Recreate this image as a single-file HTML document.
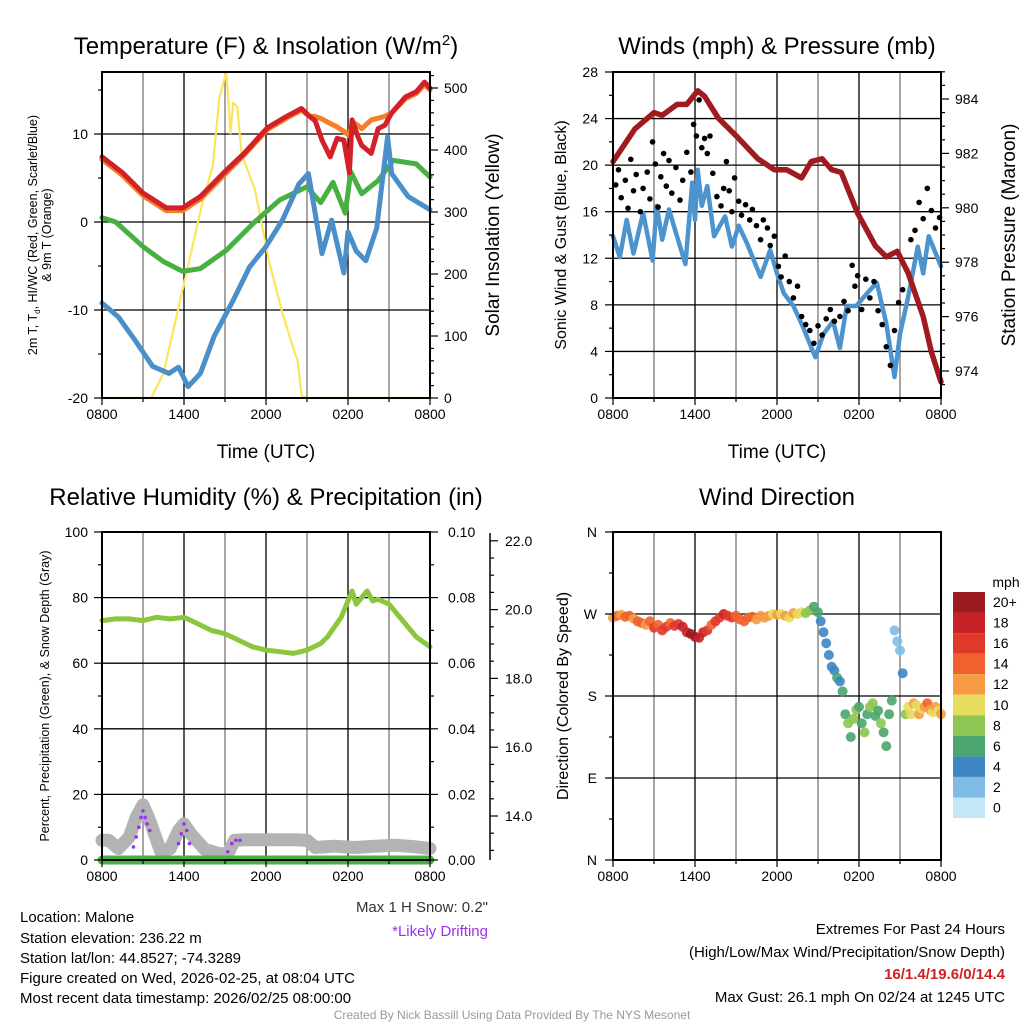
<!DOCTYPE html>
<html><head><meta charset="utf-8"><style>
html,body{margin:0;padding:0;background:#fff;}
svg{display:block;font-family:"Liberation Sans",Arial,sans-serif;}
</style></head><body>
<svg id="fig" width="1024" height="1024" viewBox="0 0 1024 1024">
<rect width="1024" height="1024" fill="#fff"/>
<g id="layer"></g>
<g font-size="24" text-anchor="middle" fill="#000">
<text x="266" y="54">Temperature (F) &amp; Insolation (W/m<tspan dy="-9" font-size="15">2</tspan><tspan dy="9">)</tspan></text>
<text x="777" y="54">Winds (mph) &amp; Pressure (mb)</text>
<text x="266" y="505">Relative Humidity (%) &amp; Precipitation (in)</text>
<text x="777" y="505">Wind Direction</text>
</g>
<g font-size="19" text-anchor="middle">
<text x="266" y="458">Time (UTC)</text>
<text x="777" y="458">Time (UTC)</text>
<text transform="translate(499,235) rotate(-90)">Solar Insolation (Yellow)</text>
<text transform="translate(1015,235) rotate(-90)">Station Pressure (Maroon)</text>
</g>
<g font-size="16" text-anchor="middle">
<text transform="translate(566,235) rotate(-90)">Sonic Wind &amp; Gust (Blue, Black)</text>
<text transform="translate(568,696) rotate(-90)">Direction (Colored By Speed)</text>
</g>
<g font-size="12.5" text-anchor="middle">
<text transform="translate(37,235) rotate(-90)">2m T, T<tspan font-size="8" dy="3">d</tspan><tspan dy="-3">, HI/WC (Red, Green, Scarlet/Blue)</tspan></text>
<text transform="translate(51,235) rotate(-90)">&amp; 9m T (Orange)</text>
<text transform="translate(49,696) rotate(-90)">Percent, Precipitation (Green), &amp; Snow Depth (Gray)</text>
</g>
<g font-size="15" fill="#000">
<text x="20" y="922">Location: Malone</text>
<text x="20" y="943">Station elevation: 236.22 m</text>
<text x="20" y="963">Station lat/lon: 44.8527; -74.3289</text>
<text x="20" y="983">Figure created on Wed, 2026-02-25, at 08:04 UTC</text>
<text x="20" y="1003">Most recent data timestamp: 2026/02/25 08:00:00</text>
<g text-anchor="end">
<text x="488" y="912" fill="#333">Max 1 H Snow: 0.2"</text>
<text x="488" y="936" fill="#9b30f0">*Likely Drifting</text>
<text x="1005" y="934">Extremes For Past 24 Hours</text>
<text x="1005" y="957">(High/Low/Max Wind/Precipitation/Snow Depth)</text>
<text x="1005" y="979" fill="#d32020" font-weight="bold">16/1.4/19.6/0/14.4</text>
<text x="1005" y="1002">Max Gust: 26.1 mph On 02/24 at 1245 UTC</text>
</g>
</g>
<text x="512" y="1019" font-size="12" fill="#999" text-anchor="middle">Created By Nick Bassill Using Data Provided By The NYS Mesonet</text>
<text x="1006" y="587" font-size="14" text-anchor="middle">mph</text>
</svg>
<script>
// ---- Temperature panel data ----
const tempT=[0,1.5,3,4.7,5.9,7.2,9.1,10.4,12.1,13.5,14.6,15.2,15.6,16.1,16.7,17.2,17.7,18.1,18.3,18.7,19,19.7,20.2,20.7,21.2,22.2,23,23.6,24];
const redTemp=[7.4,5.6,3.3,1.6,1.6,2.9,5.9,7.8,10.7,12.0,12.9,12.0,11.5,9.3,7.4,9.5,9.3,5.6,11.6,9.8,8.7,7.8,10.6,11.0,12.4,14.2,14.8,15.9,15.2];
const orangeTemp=[7.1,5.3,3.0,1.3,1.3,2.6,5.6,7.6,10.5,11.8,12.7,12.0,12.0,11.7,11.2,10.8,10.3,9.8,11.4,11.0,10.6,11.6,11.8,12.0,12.4,14.0,14.6,15.6,15.0];
const greenT=[0,1,3,4.5,5.9,7.2,9.1,11.1,13,15,16,16.9,17.8,18.2,19,20.2,21.3,23,24];
const greenDew=[0.5,0.0,-2.8,-4.5,-5.6,-5.3,-3.2,-0.1,2.5,4.0,2.2,4.5,1.0,5.7,3.2,4.7,7.0,6.6,5.1];
const blueT=[0,1.2,2.4,3.7,4.9,5.6,6.3,7.2,8.2,9.6,10.8,12,13.2,14.4,15.1,16.1,16.8,17.7,18,18.6,19.3,20.1,20.9,21.2,22.4,24];
const blueChill=[-9.2,-10.8,-13.4,-16.4,-17.2,-16.5,-18.7,-17.2,-13.0,-8.9,-5.1,-2.8,0.2,4.3,5.5,-3.6,0.2,-5.8,-1.1,-3.3,-4.4,-0.7,9.7,5.5,2.9,1.4];
const solarT=[0,3.6,4.5,5.5,6.4,7.4,8.1,8.6,9.1,9.4,9.6,9.9,10.2,11.2,12.2,13.2,14.1,14.3,14.6,14.9,24];
const solar=[0,0,40,137,223,320,373,486,526,427,476,470,395,335,223,137,73,62,5,0,0];
// ---- Wind panel data ----
const presT=[0,1.6,3,3.6,4.7,5.4,6.2,6.7,7.7,9.1,10.6,11.8,12.7,13.8,14.5,15.3,16,16.7,17.9,19.2,20,20.8,21.6,22.7,23.3,24];
const pressure=[981.7,982.9,983.5,983.4,983.8,983.8,984.3,984.1,983.3,982.6,981.8,981.4,981.4,981.1,981.7,981.8,981.4,981.3,979.8,978.6,978.2,978.4,977.6,976.0,974.7,973.6];
const windT=[0,0.5,1,1.5,2.2,2.9,3.2,3.6,4.1,4.6,5.3,5.8,6,6.2,6.5,6.9,7.4,8.2,8.7,9.2,9.8,10.8,11.5,12,12.5,13.2,13.9,14.8,15.4,16.1,16.6,17.1,17.8,18.6,19.3,20,20.6,21,21.6,22.3,22.7,23.1,24];
const windSpd=[13.9,12.1,15.3,12.4,15.9,11.8,16.5,13.6,16.2,14.2,11.5,18.5,15.3,19.6,16.5,18.2,13.9,15.6,13.0,14.8,13.3,10.4,12.7,10.7,9.0,7.9,6.1,3.5,5.5,6.6,4.3,7.9,7.9,9.0,9.9,6.4,1.8,5.5,8.7,13.0,10.7,13.9,11.3];
const gustT=[0.2,0.4,0.6,0.9,1.1,1.3,1.5,1.7,2.0,2.2,2.5,2.7,2.9,3.1,3.3,3.5,3.7,3.9,4.1,4.3,4.6,4.9,5.1,5.4,5.7,5.9,6.1,6.3,6.5,6.7,6.9,7.1,7.3,7.6,7.9,8.1,8.3,8.5,8.7,8.9,9.2,9.4,9.7,10.0,10.2,10.5,10.8,11.0,11.3,11.5,11.8,12.1,12.3,12.6,12.9,13.2,13.5,13.8,14.1,14.4,14.7,15.0,15.3,15.6,15.9,16.2,16.6,16.9,17.2,17.5,17.7,17.9,18.2,18.5,18.8,19.1,19.4,19.7,20.0,20.3,20.6,20.9,21.2,21.5,21.8,22.1,22.4,22.7,23.0,23.3,23.6,23.9];
const gustSpd=[18.3,19.6,17.2,18.7,16.3,20.5,17.8,19.2,16.0,18.0,19.4,17.1,22.0,20.1,16.4,19.0,21.0,18.2,20.4,17.6,19.8,17.0,18.7,21.1,19.4,23.5,22.5,25.6,21.5,22.3,21.0,22.5,19.3,17.3,16.5,18.0,20.3,17.8,16.0,18.9,16.9,15.7,16.6,15.3,16.2,14.8,13.6,15.3,14.6,13.1,13.9,11.3,10.4,12.2,10.0,8.6,9.6,7.0,6.3,5.8,4.7,6.2,5.4,6.8,7.6,6.6,7.0,8.3,7.5,11.4,9.6,10.5,7.6,10.2,8.6,10.0,7.5,6.3,4.4,2.8,5.8,8.2,9.3,11.0,13.6,14.4,16.8,15.4,18.0,16.1,14.6,15.5];
// ---- RH panel data ----
const rhT=[0,1,2,3,4,5,6,7,8,9,10,11,12,13,14,15,16,16.5,17,17.5,18,18.3,18.6,19,19.4,19.8,20.2,21,22,23,24];
const rh=[73,73.5,73.5,73,74,73.5,74,72,70,69,67,65,64,63.5,63,64,66,68,71,74,79,82,78,80,82,79,79.5,78,73,68,65];
const snowT=[0,0.5,1.2,2,2.5,3,3.5,4.3,5,5.6,6,6.5,7.5,8.5,9.2,9.7,10.5,12,14,15,15.6,17,18.5,20,21.5,23,24];
const snowPct=[6,6,3.5,7,13,16.8,12,2.5,3.5,9,11,8,3.3,2,1.8,6,6.2,6.2,6.2,6,3.8,4.2,3.8,4.2,4.5,4,3.5];
const driftT=[2.3,2.5,2.7,2.85,3.0,3.15,3.3,3.5,5.6,5.8,6.0,6.2,6.4,9.2,9.5,9.8,10.1];
const driftPct=[4,7,10,13,15,13,11,9,5,8,11,9,5,2.5,5,6,6];
const precipT=[0,24];
const precip=[0,0];
// ---- Wind direction data ----
const dirT=[0,0.3,0.6,0.9,1.2,1.5,1.8,2.1,2.4,2.7,3.0,3.3,3.6,3.9,4.2,4.5,4.8,5.1,5.4,5.7,6.0,6.3,6.6,6.9,7.2,7.5,7.8,8.1,8.4,8.7,9.0,9.3,9.6,9.9,10.2,10.5,10.8,11.1,11.4,11.7,12.0,12.3,12.6,12.9,13.2,13.5,13.8,14.1,14.4,14.7,15.0,15.2,15.4,15.6,15.8,16.0,16.2,16.4,16.6,16.8,17.0,17.2,17.4,17.6,17.8,18.0,18.2,18.4,18.6,18.8,19.0,19.2,19.4,19.6,19.8,20.0,20.2,20.4,20.6,20.8,21.0,21.2,21.4,21.6,21.8,22.0,22.2,22.4,22.6,22.8,23.0,23.2,23.4,23.6,23.8,24.0];
const dirDeg=[266,268,269,267,268,265,262,260,258,262,255,258,252,256,260,257,259,256,250,248,245,244,250,252,258,262,266,270,268,266,268,264,262,266,267,264,268,266,268,270,269,270,268,266,271,270,272,271,274,278,272,262,250,238,225,212,208,200,196,185,160,150,135,155,165,168,150,140,160,168,172,158,164,150,140,125,160,175,252,240,230,205,160,168,160,172,170,160,166,168,172,165,162,168,164,160];
const dirSpd=[13,14,12,15,14,13,14,15,13,15,16,15,17,16,15,16,17,18,19,20,20,19,18,17,15,16,17,18,17,16,15,14,15,14,14,13,12,13,12,11,12,11,12,10,12,11,10,9,8,6,6,5,4,4,5,4,5,6,5,6,7,8,6,9,8,7,6,8,7,8,9,7,6,8,7,6,7,6,3,2,3,4,9,10,11,12,10,13,11,12,14,12,11,13,10,12];
const xTickLabels=["0800","1400","2000","0200","0800"];
const tempTicks=[-20,-10,0,10];
const solarTicks=[0,100,200,300,400,500];
const windTicks=[0,4,8,12,16,20,24,28];
const presTicks=[974,976,978,980,982,984];
const rhTicks=[0,20,40,60,80,100];
const precipTicks=[0,0.02,0.04,0.06,0.08,0.10];
const snowTicks=[14,16,18,20,22];
const dirLabels=["N","E","S","W","N"];
const cbLabels=["20+","18","16","14","12","10","8","6","4","2","0"];
const cbColors=["#9b1b1e","#c62127","#e0382b","#ef6230","#f79b43","#e6dd5c","#8cc653","#4aa66c","#3d87c4","#7fbde6","#c4e6f7"];

const NS="http://www.w3.org/2000/svg";
const layer=document.getElementById('layer');
function mk(tag,attrs,parent){const e=document.createElementNS(NS,tag);for(const k in attrs)e.setAttribute(k,attrs[k]);(parent||layer).appendChild(e);return e;}
// axis functions
const xL=t=>102+t*13.667, xR=t=>613+t*13.667;
const yTemp=v=>222-v*8.8, ySolar=w=>398-w*0.62;
const yWind=v=>398-v*11.643, yPres=p=>371-(p-974)*27.2;
const yRH=v=>860-v*3.28, yPrecip=v=>860-v*3280, ySnow=v=>816-(v-14)*34.4;
const yDir=d=>860-d*0.9111;

function pathOf(ts,vs,fx,fy){return ts.map((t,i)=>(i?'L':'M')+fx(t).toFixed(1)+' '+fy(vs[i]).toFixed(1)).join(' ');}

function frame(x0,y0,x1,y1,name){
  const r=mk('rect',{x:x0,y:y0,width:x1-x0,height:y1-y0,fill:'none',stroke:'#000','stroke-width':2});
  
  
}
function vgrid(x0,y0,y1,name){
  for(let h=3;h<24;h+=3){
    const l=mk('line',{x1:x0+h*13.667,x2:x0+h*13.667,y1:y0,y2:y1,stroke:(h%6?'#777':'#000'),'stroke-width':1.3});
    
    
  }
}
function hline(x0,x1,y,name){
  const l=mk('line',{x1:x0,x2:x1,y1:y,y2:y,stroke:'#000','stroke-width':1.3});
  
  
}
function text(x,y,s,anchor,size,name,fill){
  const e=mk('text',{x:x,y:y,'text-anchor':anchor,'font-size':size,fill:fill||'#000'});
  e.textContent=s;
  
  
  return e;
}
function tick(x1,y1,x2,y2,name){
  const l=mk('line',{x1:x1,y1:y1,x2:x2,y2:y2,stroke:'#000','stroke-width':1.2});
  
  
}
function xticks(x0,yb,name){
  xTickLabels.forEach((s,i)=>{
    const x=x0+i*6*13.667;
    tick(x,yb,x,yb+7,name+'-tick');
    text(x,yb+21,s,'middle',14,name+'-tick-label');
  });
  for(let h=3;h<24;h+=6){tick(x0+h*13.667,yb,x0+h*13.667,yb+4,name+'-minor-tick');}
}
function series(ts,vs,fx,fy,color,w,name){
  const p=mk('path',{d:pathOf(ts,vs,fx,fy),fill:'none',stroke:color,'stroke-width':w,'stroke-linejoin':'round','stroke-linecap':'round'});
  
  
}

// ===== Panel 1 =====
vgrid(102,72,398,'temp');
[-10,0,10].forEach(v=>hline(102,430,yTemp(v),'temp-hgrid'));
series(solarT,solar,xL,ySolar,'#fde55a',2.2,'solar-insolation-line');
series(greenT,greenDew,xL,yTemp,'#46b040',5,'dewpoint-line');
series(blueT,blueChill,xL,yTemp,'#4a8fc8',5,'wind-chill-line');
series(tempT,orangeTemp,xL,yTemp,'#f47f2a',5,'temp-9m-line');
series(tempT,redTemp,xL,yTemp,'#d42027',5,'temp-2m-line');
frame(102,72,430,398,'temp-plot-frame');
tempTicks.forEach(v=>{tick(94,yTemp(v),102,yTemp(v),'temp-y-tick');text(88,yTemp(v)+5,String(v),'end',14,'temp-y-tick-label');});
for(let v=-15;v<=15;v+=10){tick(98,yTemp(v),102,yTemp(v),'temp-y-minor-tick');}
solarTicks.forEach(v=>{tick(430,ySolar(v),438,ySolar(v),'solar-y-tick');text(444,ySolar(v)+5,String(v),'start',14,'solar-y-tick-label');});
for(let v=20;v<=520;v+=20){if(v%100)tick(430,ySolar(v),434,ySolar(v),'solar-y-minor-tick');}
xticks(102,398,'temp-x');

// ===== Panel 2 =====
vgrid(613,72,398,'wind');
[4,8,12,16,20,24].forEach(v=>hline(613,941,yWind(v),'wind-hgrid'));
series(windT,windSpd,xR,yWind,'#4d94cf',4.5,'wind-speed-line');
gustT.forEach((t,i)=>{
  const c=mk('circle',{cx:xR(t).toFixed(1),cy:yWind(gustSpd[i]).toFixed(1),r:2.8,fill:'#000'});
  
  
});
series(presT,pressure,xR,yPres,'#a01b1f',5.5,'pressure-line');
frame(613,72,941,398,'wind-plot-frame');
windTicks.forEach(v=>{tick(605,yWind(v),613,yWind(v),'wind-y-tick');text(598,yWind(v)+5,String(v),'end',14,'wind-y-tick-label');});
for(let v=2;v<28;v+=4){tick(609,yWind(v),613,yWind(v),'wind-y-minor-tick');}
presTicks.forEach(v=>{tick(941,yPres(v),949,yPres(v),'pressure-y-tick');text(955,yPres(v)+5,String(v),'start',14,'pressure-y-tick-label');});
for(let v=973.5;v<=985;v+=0.5){if(v%2)tick(941,yPres(v),945,yPres(v),'pressure-y-minor-tick');}
xticks(613,398,'wind-x');

// ===== Panel 3 =====
vgrid(102,532,860,'rh');
[20,40,60,80].forEach(v=>hline(102,430,yRH(v),'rh-hgrid'));
series(rhT,rh,xL,yRH,'#8cc63f',5,'rh-line');
series(snowT,snowPct,xL,yRH,'#b3b3b3',13,'snow-depth-line');
series(precipT,precip,xL,yPrecip,'#46b040',9,'precip-line');
driftT.forEach((t,i)=>{
  const c=mk('circle',{cx:xL(t).toFixed(1),cy:yRH(driftPct[i]).toFixed(1),r:1.8,fill:'#9b30f0'});
  
  
});
frame(102,532,430,860,'rh-plot-frame');
rhTicks.forEach(v=>{tick(94,yRH(v),102,yRH(v),'rh-y-tick');text(88,yRH(v)+5,String(v),'end',14,'rh-y-tick-label');});
for(let v=10;v<100;v+=20){tick(98,yRH(v),102,yRH(v),'rh-y-minor-tick');}
precipTicks.forEach(v=>{tick(430,yPrecip(v),438,yPrecip(v),'precip-y-tick');text(448,yPrecip(v)+5,v.toFixed(2),'start',14,'precip-y-tick-label');});
for(let v=0.01;v<0.1;v+=0.02){tick(430,yPrecip(v),434,yPrecip(v),'precip-y-minor-tick');}
const sa=mk('line',{x1:490,x2:490,y1:533,y2:860,stroke:'#000','stroke-width':1.5});


snowTicks.forEach(v=>{tick(490,ySnow(v),498,ySnow(v),'snow-y-tick');text(505,ySnow(v)+5,v.toFixed(1),'start',14,'snow-y-tick-label');});
for(let v=12.5;v<=22.5;v+=0.5){if(v%2&&ySnow(v)<=860&&ySnow(v)>=533)tick(490,ySnow(v),494,ySnow(v),'snow-y-minor-tick');}
xticks(102,860,'rh-x');

// ===== Panel 4 =====
vgrid(613,532,860,'dir');
[90,180,270].forEach(v=>hline(613,941,yDir(v),'dir-hgrid'));
function spdColor(s){let b=Math.floor(s/2);if(b>10)b=10;if(b<0)b=0;return cbColors[10-b];}
dirT.forEach((t,i)=>{
  const c=mk('circle',{cx:xR(t).toFixed(1),cy:yDir(dirDeg[i]).toFixed(1),r:5,fill:spdColor(dirSpd[i]),'fill-opacity':0.9});
  
  
});
frame(613,532,941,860,'dir-plot-frame');
dirLabels.forEach((s,i)=>{const y=yDir(i*90);tick(605,y,613,y,'dir-y-tick');text(597,y+5,s,'end',14,'dir-y-tick-label');});
for(let d=45;d<360;d+=90){tick(609,yDir(d),613,yDir(d),'dir-y-minor-tick');}
xticks(613,860,'dir-x');

// colorbar
cbColors.forEach((c,i)=>{
  const y=592+i*20.55;
  const r=mk('rect',{x:953,y:y,width:32,height:20.55,fill:c});
  
  
  text(993,y+15,cbLabels[i],'start',14,'colorbar-label');
});
</script>
</body></html>
